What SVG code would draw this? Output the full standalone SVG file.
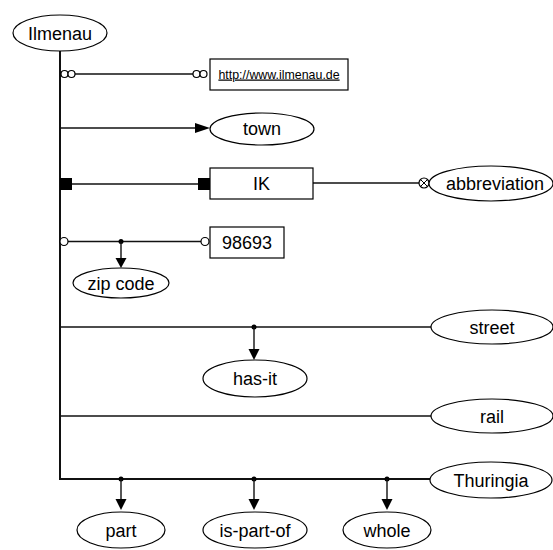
<svg xmlns="http://www.w3.org/2000/svg" width="553" height="550" viewBox="0 0 553 550">
<defs>
<style>
.n{fill:#fff;stroke:#000;stroke-width:1.2}
.t{font-family:"Liberation Sans",Arial,sans-serif;font-size:18px;fill:#000;text-anchor:middle}
.u{font-family:"Liberation Sans",Arial,sans-serif;font-size:12.4px;fill:#000;text-anchor:middle;text-decoration:underline}
.c{fill:none;stroke:#111;stroke-width:1.4}
.o{fill:#fff;stroke:#000;stroke-width:1.2}
.f{fill:#000;stroke:none}
</style>
</defs>
<rect width="553" height="550" fill="#fff"/>
<g id="connectors">
<path class="c" d="M60,51 V479 H430" style="stroke-width:2"/>
<path class="c" d="M75,74 H193"/>
<circle class="o" cx="64.5" cy="74" r="3.5"/>
<circle class="o" cx="71.5" cy="74" r="3.5"/>
<circle class="o" cx="196.5" cy="74" r="3.5"/>
<circle class="o" cx="203.5" cy="74" r="3.5"/>
<path class="c" d="M60,128 H196"/>
<polygon class="f" points="195,123 210,128 195,133"/>
<path class="c" d="M72,184 H198"/>
<rect class="f" x="60" y="178" width="12" height="12"/>
<rect class="f" x="198" y="178" width="12" height="12"/>
<path class="c" d="M313,183 H419"/>
<circle class="o" cx="424" cy="183" r="5"/>
<path d="M420.5,179.5 L427.5,186.5 M427.5,179.5 L420.5,186.5" stroke="#000" stroke-width="1"/>
<path class="c" d="M68,241.5 H201"/>
<circle class="o" cx="64" cy="241.5" r="4"/>
<circle class="o" cx="205" cy="241.5" r="4"/>
<circle class="f" cx="121" cy="241.5" r="2.5"/>
<path class="c" d="M121,241.5 V259"/>
<polygon class="f" points="115.5,258 126.5,258 121,268"/>
<path class="c" d="M60,327 H431"/>
<circle class="f" cx="254" cy="327" r="2.5"/>
<path class="c" d="M254,327 V350"/>
<polygon class="f" points="248.5,349 259.5,349 254,360"/>
<path class="c" d="M60,416 H431"/>
<circle class="f" cx="121" cy="479" r="2.5"/>
<circle class="f" cx="254" cy="479" r="2.5"/>
<circle class="f" cx="387" cy="479" r="2.5"/>
<path class="c" d="M121,479 V500 M254,479 V500 M387,479 V500"/>
<polygon class="f" points="115.5,499 126.5,499 121,510"/>
<polygon class="f" points="248.5,499 259.5,499 254,510"/>
<polygon class="f" points="381.5,499 392.5,499 387,510"/>
</g>
<g id="ilmenau"><ellipse class="n" cx="60" cy="33" rx="47" ry="18"/><text class="t" x="60" y="39.5">Ilmenau</text></g>
<g id="url"><rect class="n" x="210" y="59" width="138" height="31"/><text class="u" x="279" y="78.5">http://www.ilmenau.de</text></g>
<g id="town"><ellipse class="n" cx="262" cy="129" rx="52" ry="16"/><text class="t" x="262" y="135">town</text></g>
<g id="ik"><rect class="n" x="210" y="168" width="103" height="31"/><text class="t" x="261.5" y="190">IK</text></g>
<g id="abbreviation"><ellipse class="n" cx="491" cy="183.5" rx="62" ry="17.5"/><text class="t" x="495" y="190">abbreviation</text></g>
<g id="zip"><rect class="n" x="210" y="227" width="74" height="31"/><text class="t" x="247" y="249">98693</text></g>
<g id="zipcode"><ellipse class="n" cx="121" cy="283" rx="48" ry="15"/><text class="t" x="121" y="289.5">zip code</text></g>
<g id="street"><ellipse class="n" cx="492" cy="327" rx="61" ry="17"/><text class="t" x="492" y="333.5">street</text></g>
<g id="hasit"><ellipse class="n" cx="255" cy="378.5" rx="52" ry="18.5"/><text class="t" x="255" y="385">has-it</text></g>
<g id="rail"><ellipse class="n" cx="492" cy="416" rx="61" ry="17"/><text class="t" x="492" y="422.5">rail</text></g>
<g id="thuringia"><ellipse class="n" cx="491" cy="480" rx="61" ry="18"/><text class="t" x="491" y="486.5">Thuringia</text></g>
<g id="part"><ellipse class="n" cx="121" cy="530" rx="44" ry="18"/><text class="t" x="121" y="536.5">part</text></g>
<g id="ispartof"><ellipse class="n" cx="255" cy="530" rx="52" ry="18"/><text class="t" x="255" y="536.5">is-part-of</text></g>
<g id="whole"><ellipse class="n" cx="387" cy="530" rx="44" ry="18"/><text class="t" x="387" y="536.5">whole</text></g>
</svg>
